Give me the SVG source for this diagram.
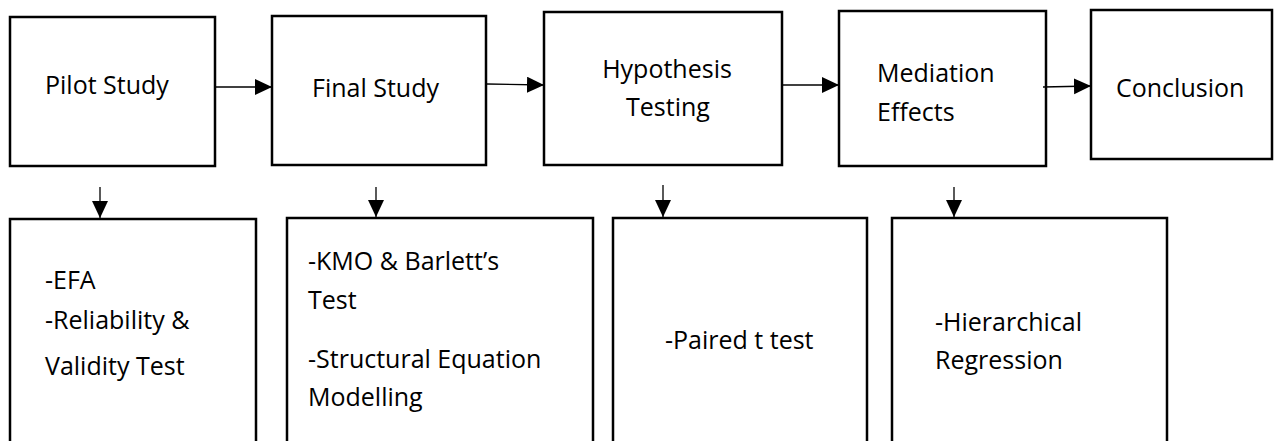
<svg xmlns="http://www.w3.org/2000/svg" width="1274" height="441" viewBox="0 0 1274 441">
  <style>
    .box { fill: #ffffff; stroke: #000000; stroke-width: 2.5; }
    .lbl { font-family: "Open Sans", "Liberation Sans", sans-serif; font-size: 25px; fill: #000000; }
    .mid { text-anchor: middle; }
    .link { stroke: #000000; stroke-width: 1.3; fill: none; marker-end: url(#head); }
  </style>
  <defs>
    <marker id="head" markerUnits="userSpaceOnUse" markerWidth="19" markerHeight="17" refX="17" refY="8" orient="auto">
      <path d="M0,0 L17,8 L0,16 Z" fill="#000000"/>
    </marker>
  </defs>
  <rect x="0" y="0" width="1274" height="441" fill="#ffffff"/>

  <!-- top row: stages -->
  <g id="pilot">
    <rect class="box" x="10" y="17" width="205" height="149"/>
    <text class="lbl" x="45" y="94">Pilot Study</text>
  </g>
  <g id="final">
    <rect class="box" x="272" y="16" width="214" height="149"/>
    <text class="lbl" x="312" y="97">Final Study</text>
  </g>
  <g id="hypothesis">
    <rect class="box" x="544" y="12" width="238" height="153"/>
    <text class="lbl mid" x="667" y="78">Hypothesis</text>
    <text class="lbl mid" x="668" y="116">Testing</text>
  </g>
  <g id="mediation">
    <rect class="box" x="839" y="11" width="207" height="155"/>
    <text class="lbl" x="877" y="82">Mediation</text>
    <text class="lbl" x="877" y="121">Effects</text>
  </g>
  <g id="conclusion">
    <rect class="box" x="1091" y="10" width="181" height="149"/>
    <text class="lbl" x="1116" y="97">Conclusion</text>
  </g>

  <!-- bottom row: methods per stage (open at the lower edge) -->
  <g id="pilot-methods">
    <path class="box" d="M10,445 L10,219 L256,219 L256,445"/>
    <text class="lbl" x="45" y="289">-EFA</text>
    <text class="lbl" x="45" y="329">-Reliability &amp;</text>
    <text class="lbl" x="45" y="375">Validity Test</text>
  </g>
  <g id="final-methods">
    <path class="box" d="M287,445 L287,218 L593,218 L593,445"/>
    <text class="lbl" x="308" y="270">-KMO &amp; Barlett’s</text>
    <text class="lbl" x="308" y="309">Test</text>
    <text class="lbl" x="308" y="368">-Structural Equation</text>
    <text class="lbl" x="308" y="406">Modelling</text>
  </g>
  <g id="hypothesis-methods">
    <path class="box" d="M613,445 L613,218 L867,218 L867,445"/>
    <text class="lbl" x="665" y="349">-Paired t test</text>
  </g>
  <g id="mediation-methods">
    <path class="box" d="M892,445 L892,218 L1167,218 L1167,445"/>
    <text class="lbl" x="935" y="331">-Hierarchical</text>
    <text class="lbl" x="935" y="369">Regression</text>
  </g>

  <!-- connectors -->
  <g id="connectors">
    <line class="link" x1="216" y1="87" x2="272" y2="87"/>
    <line class="link" x1="487" y1="84" x2="544" y2="85"/>
    <line class="link" x1="783" y1="85" x2="839" y2="85"/>
    <line class="link" x1="1043" y1="87" x2="1091" y2="86"/>
    <line class="link" x1="100" y1="187" x2="100" y2="218"/>
    <line class="link" x1="376" y1="187" x2="376" y2="217"/>
    <line class="link" x1="663" y1="185" x2="663" y2="217"/>
    <line class="link" x1="954" y1="187" x2="954" y2="217"/>
  </g>
</svg>
